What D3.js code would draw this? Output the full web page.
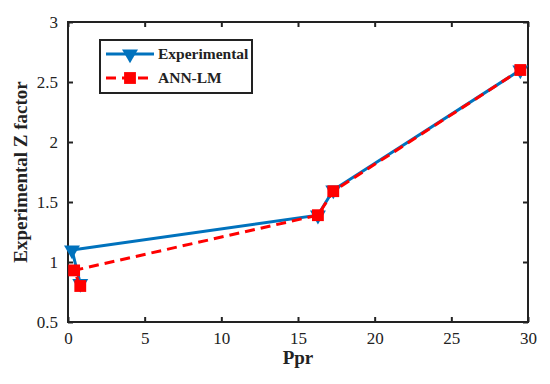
<!DOCTYPE html>
<html><head><meta charset="utf-8">
<script src="https://cdn.jsdelivr.net/npm/d3@7"></script>
<style>body{margin:0;background:#fff;}svg{display:block;}</style>
</head><body>
<svg id="c" width="550" height="384"></svg>
<script>
const xTicks = [0, 5, 10, 15, 20, 25, 30];
const yTicks = [0.5, 1, 1.5, 2, 2.5, 3];
const seriesNames = ["Experimental", "ANN-LM"];
const expPpr = [0.8, 0.26, 16.3, 17.3, 29.5];
const expZ   = [0.82, 1.1, 1.39, 1.6, 2.6];
const annPpr = [0.8, 0.4, 16.3, 17.3, 29.5];
const annZ   = [0.8, 0.93, 1.39, 1.59, 2.6];

const svg = d3.select("#c");
const L = 68, R = 528, T = 22, B = 322;
const x = d3.scaleLinear().domain([0, 30]).range([L, R]);
const y = d3.scaleLinear().domain([0.5, 3]).range([B, T]);
const font = "'Liberation Serif', 'DejaVu Serif', serif";

const tickLen = 5;
const gx = svg.append("g").attr("transform", `translate(0,${B})`)
  .call(d3.axisBottom(x).tickValues(xTicks).tickSize(-tickLen).tickPadding(10).tickFormat(d3.format("d")));
const gy = svg.append("g").attr("transform", `translate(${L},0)`)
  .call(d3.axisLeft(y).tickValues(yTicks).tickSize(-tickLen).tickPadding(10).tickFormat(d => d));
const gxt = svg.append("g").attr("transform", `translate(0,${T})`)
  .call(d3.axisTop(x).tickValues(xTicks).tickSize(-tickLen).tickFormat(""));
const gyr = svg.append("g").attr("transform", `translate(${R},0)`)
  .call(d3.axisRight(y).tickValues(yTicks).tickSize(-tickLen).tickFormat(""));
[gx, gy, gxt, gyr].forEach(g => {
  g.select(".domain").remove();
  g.selectAll(".tick line").attr("stroke", "#222").attr("stroke-width", 2);
  g.selectAll("text").attr("font-family", font).attr("font-size", 17).attr("fill", "#222");
});
svg.append("rect").attr("x", L).attr("y", T).attr("width", R - L).attr("height", B - T)
  .attr("fill", "none").attr("stroke", "#222").attr("stroke-width", 2);

svg.append("text").attr("x", (L + R) / 2).attr("y", 364).attr("text-anchor", "middle")
  .attr("font-family", font).attr("font-weight", "bold").attr("font-size", 19).attr("fill", "#222").text("Ppr");
svg.append("text").attr("transform", `translate(27,${(T + B) / 2}) rotate(-90)`).attr("text-anchor", "middle")
  .attr("font-family", font).attr("font-weight", "bold").attr("font-size", 19).attr("fill", "#222").text("Experimental Z factor");

const blue = "#0072BD", red = "#FF0000";
const line = d3.line().x(d => x(d[0])).y(d => y(d[1]));
const expData = expPpr.map((p, i) => [p, expZ[i]]);
const annData = annPpr.map((p, i) => [p, annZ[i]]);
const tri = d3.symbol().type(d3.symbolTriangle).size(110);
const sq = d3.symbol().type(d3.symbolSquare).size(140);

svg.append("path").attr("d", line(expData)).attr("fill", "none").attr("stroke", blue).attr("stroke-width", 3);
svg.selectAll(".tri").data(expData).enter().append("path")
  .attr("d", tri).attr("fill", blue)
  .attr("transform", d => `translate(${x(d[0])},${y(d[1])}) rotate(180)`);
svg.append("path").attr("d", line(annData)).attr("fill", "none").attr("stroke", red).attr("stroke-width", 3)
  .attr("stroke-dasharray", "10,6");
svg.selectAll(".sq").data(annData).enter().append("path")
  .attr("d", sq).attr("fill", red)
  .attr("transform", d => `translate(${x(d[0])},${y(d[1])})`);

const lg = svg.append("g");
lg.append("rect").attr("x", 100).attr("y", 40).attr("width", 152).attr("height", 53)
  .attr("fill", "#fff").attr("stroke", "#222").attr("stroke-width", 2);
const rows = [{c: blue, dash: null, sym: tri, rot: 180}, {c: red, dash: "10,6", sym: sq, rot: 0}];
rows.forEach((r, i) => {
  const yy = 54 + i * 24;
  lg.append("line").attr("x1", 106).attr("x2", 154).attr("y1", yy).attr("y2", yy)
    .attr("stroke", r.c).attr("stroke-width", 3).attr("stroke-dasharray", r.dash);
  lg.append("path").attr("d", r.sym).attr("fill", r.c)
    .attr("transform", `translate(130,${yy}) rotate(${r.rot})`);
  lg.append("text").attr("x", 158).attr("y", yy + 5).attr("font-family", font).attr("font-weight", "bold")
    .attr("font-size", 15.5).attr("fill", "#222").text(seriesNames[i]);
});
</script>
</body></html>
